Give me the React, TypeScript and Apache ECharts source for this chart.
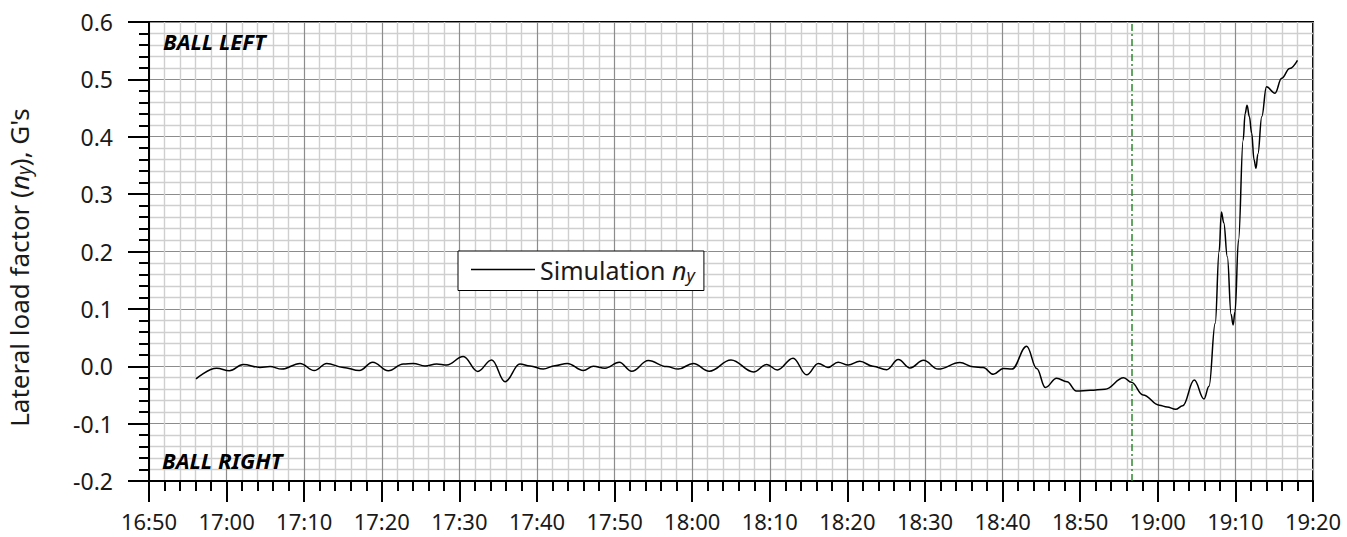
import React, { useEffect, useRef } from "react";
import * as echarts from "echarts";

// Time axis runs in minutes after 16:50.
const START_CLOCK_MIN = 16 * 60 + 50;
const X_MIN = 0;
const X_MAX = 150;
const X_STEP = 10;

const Y_MIN = -0.2;
const Y_MAX = 0.6;
const Y_STEP = 0.1;

// Simulated lateral load factor n_y (G's) against elapsed minutes.
const minutes = [
  6.06, 8.72, 10.35, 12.15, 14.3, 15.6, 17.1, 19.46, 21.3, 22.9,
  25.04, 27.1, 28.83, 30.84, 32.77, 34.06, 35.57, 37.07, 38.36, 40.5,
  42.36, 44.16, 45.88, 47.8, 49.1, 50.8, 52.3, 53.9, 55.97, 57.26,
  58.76, 60.6, 62.2, 64.35, 66.7, 68.2, 70.14, 72.2, 75.0, 77.9,
  79.6, 80.97, 83.0, 84.75, 86.25, 87.5, 88.8, 90.1, 91.6, 93.3,
  95.06, 96.56, 98.07, 99.8, 101.7, 104.5, 106.2, 107.5, 108.8, 110.1,
  111.2, 113.1, 114.4, 115.5, 116.97, 118.3, 119.5, 121.3, 123.2, 125.6,
  126.6, 128.1, 130.2, 131.2, 132.3, 133.2, 134.7, 135.95, 136.6, 137.4,
  137.9, 138.2, 138.5, 138.96, 139.45, 139.7, 139.95, 140.4, 141.0, 141.25,
  141.5, 141.8, 142.1, 142.4, 142.65, 142.9, 143.4, 144.0, 145.1, 145.96,
  147.0, 148.0,
];

const loadFactor = [
  -0.022, -0.0035, -0.008, 0.003, -0.002, -0.0006, -0.005, 0.005, -0.0075, 0.005,
  -0.002, -0.0075, 0.007, -0.008, 0.004, 0.005, 0.0006, 0.004, 0.002, 0.017,
  -0.009, 0.011, -0.027, 0.004, 0.0006, -0.005, 0.001, 0.005, -0.0075, 0.0,
  -0.0035, 0.007, -0.0087, 0.0099, -0.0006, -0.005, 0.005, -0.0087, 0.011, -0.0099,
  0.003, -0.0064, 0.014, -0.015, 0.005, -0.002, 0.007, 0.002, 0.0087, 0.0,
  -0.006, 0.0116, -0.003, 0.0104, -0.005, 0.0064, -0.001, -0.0023, -0.014, -0.004,
  -0.005, 0.035, -0.004, -0.037, -0.021, -0.027, -0.043, -0.042, -0.04, -0.02,
  -0.028, -0.05, -0.068, -0.071, -0.075, -0.069, -0.024, -0.057, -0.035, 0.075,
  0.2, 0.269, 0.25, 0.191, 0.09, 0.072, 0.095, 0.22, 0.394, 0.44,
  0.455, 0.435, 0.406, 0.36, 0.345, 0.37, 0.435, 0.487, 0.476, 0.502,
  0.519, 0.533,
];

// Event marker (dash-dot vertical line), minutes after 16:50.
const markerMinute = 126.6;

const SERIES_NAME = "Simulation";
const FONT = "'Noto Sans', 'DejaVu Sans', sans-serif";
const TEXT_COLOR = "#1a1a1a";

const clockLabel = (v: number) => {
  const t = Math.round(START_CLOCK_MIN + v);
  const h = Math.floor(t / 60);
  const m = t % 60;
  return `${h}:${m < 10 ? "0" + m : m}`;
};

const yLabel = (v: number) => (Math.abs(v) < 1e-9 ? "0.0" : v.toFixed(1));

export default function App() {
  const ref = useRef<HTMLDivElement>(null);

  useEffect(() => {
    document.body.style.margin = "0";
    if (!ref.current) return;
    const chart = echarts.init(ref.current, null, { renderer: "svg" });

    const points = minutes.map((m, i) => [m, loadFactor[i]]);

    const richText = (size: number) => ({
      t: { fontFamily: FONT, fontSize: size, color: TEXT_COLOR, lineHeight: 28 },
      i: { fontFamily: FONT, fontSize: size, fontStyle: "italic", color: TEXT_COLOR, lineHeight: 28 },
      s: {
        fontFamily: FONT,
        fontSize: Math.round(size * 0.72),
        fontStyle: "italic",
        color: TEXT_COLOR,
        lineHeight: 12,
        verticalAlign: "bottom",
      },
    });

    const axisCommon = {
      axisLine: { show: true, onZero: false, lineStyle: { color: "#000", width: 2 } },
      axisTick: { show: true, inside: false, length: 21, lineStyle: { color: "#000", width: 2 } },
      minorTick: { show: true, splitNumber: 5, length: 10, lineStyle: { color: "#000", width: 2 } },
      splitLine: { show: true, lineStyle: { color: "#8c8c8c", width: 1.2 } },
      minorSplitLine: { show: true, lineStyle: { color: "#cfcfcf", width: 1.4 } },
    };

    chart.setOption({
      animation: false,
      backgroundColor: "#fff",
      grid: {
        left: 149,
        right: 34,
        top: 22,
        bottom: 56,
        containLabel: false,
        outerBoundsMode: "none",
        show: true,
        borderColor: "#000",
        borderWidth: 2,
        backgroundColor: "transparent",
      },
      legend: {
        left: 458,
        top: 251,
        orient: "horizontal",
        backgroundColor: "#fff",
        borderColor: "#000",
        borderWidth: 1,
        borderRadius: 0,
        padding: [6, 9, 7, 13],
        icon: "rect",
        itemWidth: 64,
        itemHeight: 1.4,
        itemGap: 0,
        itemStyle: { color: "#000" },
        selectedMode: false,
        data: [SERIES_NAME],
        formatter: () => "{t|Simulation }{i|n}{s|y}",
        textStyle: { fontFamily: FONT, fontSize: 25, color: TEXT_COLOR, rich: richText(25) },
      },
      xAxis: {
        type: "value",
        min: X_MIN,
        max: X_MAX,
        interval: X_STEP,
        ...axisCommon,
        axisLabel: {
          formatter: clockLabel,
          fontFamily: FONT,
          fontSize: 22,
          lineHeight: 24,
          color: TEXT_COLOR,
          margin: 28,
        },
      },
      yAxis: {
        type: "value",
        min: Y_MIN,
        max: Y_MAX,
        interval: Y_STEP,
        name: "Lateral load factor ({i|n}{s|y}), G's",
        nameLocation: "middle",
        nameGap: 116,
        nameRotate: 90,
        nameTextStyle: {
          fontFamily: FONT,
          fontSize: 26,
          color: TEXT_COLOR,
          padding: [0, 32, 0, 0],
          rich: richText(26),
        },
        ...axisCommon,
        axisLabel: {
          formatter: yLabel,
          fontFamily: FONT,
          fontSize: 23,
          color: TEXT_COLOR,
          margin: 36,
        },
      },
      series: [
        {
          name: SERIES_NAME,
          type: "line",
          data: points,
          smooth: 0.4,
          smoothMonotone: "x",
          symbol: "none",
          showSymbol: false,
          color: "#000",
          lineStyle: { color: "#000", width: 1.5 },
          z: 5,
          markLine: {
            silent: true,
            symbol: "none",
            label: { show: false },
            lineStyle: { color: "#2e8b2e", width: 1.5, type: [7, 3, 2, 3] },
            data: [{ xAxis: markerMinute }],
          },
        },
      ],
      graphic: [
        {
          type: "text",
          left: 163,
          top: 30,
          z: 10,
          style: {
            text: "BALL LEFT",
            font: `italic bold 22px ${FONT}`,
            fill: "#000",
          },
        },
        {
          type: "text",
          left: 162,
          top: 449,
          z: 10,
          style: {
            text: "BALL RIGHT",
            font: `italic bold 22px ${FONT}`,
            fill: "#000",
          },
        },
      ],
    });

    return () => chart.dispose();
  }, []);

  return <div ref={ref} style={{ width: 1347, height: 537 }} />;
}
